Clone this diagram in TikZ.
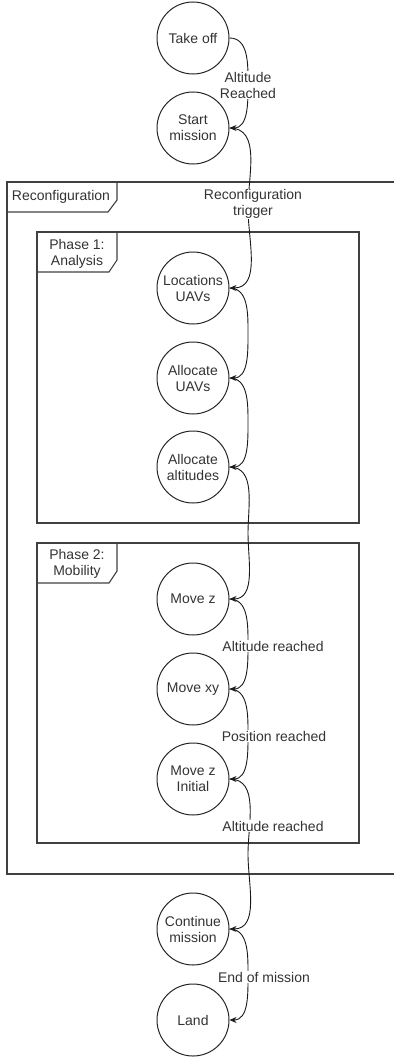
\documentclass[tikz,border=0pt]{standalone}
\usepackage{fontspec}
\setmainfont{Liberation Sans}
\usetikzlibrary{arrows.meta}
\begin{document}
\begin{tikzpicture}[x=1pt,y=-1pt,
  state/.style={circle,draw=black!85,line width=1pt,minimum size=72pt,inner sep=0pt,
    align=center,font=\fontsize{14}{16}\selectfont,text=black!80},
  frame/.style={draw=black!75,line width=1.1pt},
  tabtext/.style={align=center,font=\fontsize{14}{16}\selectfont,text=black!80,inner sep=0pt},
  conn/.style={draw=black!90,line width=0.9pt,-{Stealth[length=7pt,width=6pt]}},
  lbl/.style={fill=white,align=center,font=\fontsize{14}{16}\selectfont,text=black!80,inner sep=0.5pt}]
\useasboundingbox (0,0) rectangle (394,1057);
% frames
\draw[frame] (394,182) -- (7,182) -- (7,874) -- (394,874);
\draw[frame] (117,182) -- (117,200) -- (108,212) -- (7,212);
\node[tabtext] (tabR) at (61,197) {Reconfiguration};
\draw[frame] (37,232) rectangle (359,523);
\draw[frame] (117,232) -- (117,260) -- (109,272) -- (37,272);
\node[tabtext] (tab1) at (77,254) {Phase 1:\\Analysis};
\draw[frame] (37,543) rectangle (359,843);
\draw[frame] (117,543) -- (117,571) -- (109,583) -- (37,583);
\node[tabtext] (tab2) at (77,564) {Phase 2:\\Mobility};
% states
\node[state] (takeoff) at (193,38) {Take off};
\node[state] (start) at (193,128) {Start\\mission};
\node[state] (loc) at (193,288) {Locations\\UAVs};
\node[state] (alloc) at (193,378) {Allocate\\UAVs};
\node[state] (alt) at (193,467) {Allocate\\altitudes};
\node[state] (movez) at (193,599) {Move z};
\node[state] (movexy) at (193,689) {Move xy};
\node[state] (movezi) at (193,779) {Move z\\Initial};
\node[state] (cont) at (193,929) {Continue\\mission};
\node[state] (land) at (193,1020) {Land};
% connectors
\foreach \a/\b/\m in {takeoff/start/83, start/loc/208, loc/alloc/333, alloc/alt/422,
  alt/movez/533, movez/movexy/644, movexy/movezi/734, movezi/cont/854, cont/land/974}{
  \coordinate (m-\a) at (248,\m);
  \draw[conn] (\a.east) to[out=0,in=90] (m-\a) to[out=-90,in=0] (\b.east);
}
% labels
\node[lbl] (l1) at (248,85) {Altitude\\Reached};
\node[lbl] (l2) at (253,204) {Reconfiguration\\trigger};
\node[lbl] (l3) at (273,646) {Altitude reached};
\node[lbl] (l4) at (274,736) {Position reached};
\node[lbl] (l5) at (273,826) {Altitude reached};
\node[lbl] (l6) at (264,977) {End of mission};
\end{tikzpicture}
\end{document}
